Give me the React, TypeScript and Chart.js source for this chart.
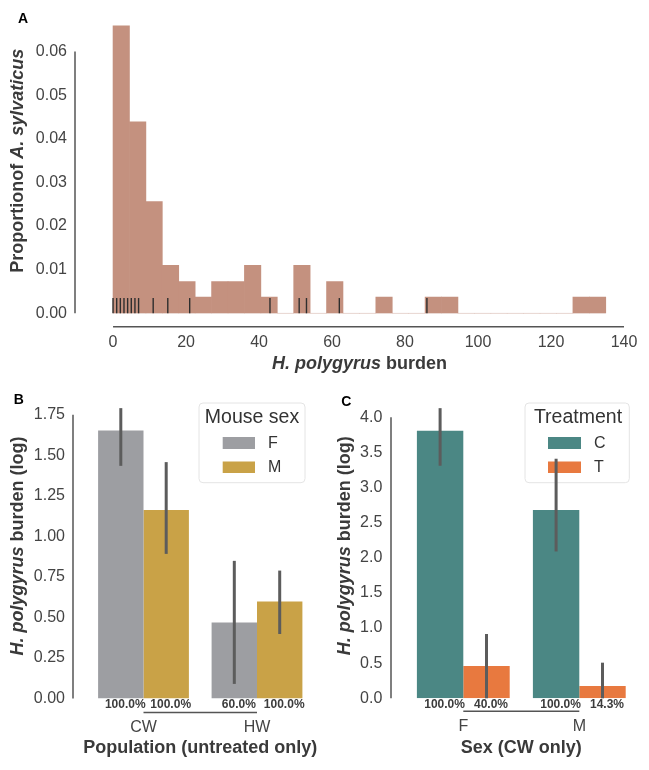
import React, { useEffect, useRef } from 'react';
import { Chart, registerables } from 'chart.js';

Chart.register(...registerables);

const FONT = "'Liberation Sans', Arial, Helvetica, sans-serif";

// ---------- Panel A: histogram of H. polygyrus burden ----------
const histBinStarts = [0, 4.5, 9, 13.5, 18, 22.5, 27, 31.5, 36, 40.5, 45, 49.5, 54, 58.5, 63, 67.5, 72, 76.5, 81, 85.5, 90, 94.5, 99, 103.5, 108, 112.5, 117, 121.5, 126, 130.5];
const histBinWidth = 4.5;
const histDensity = [0.0659, 0.0439, 0.0256, 0.011, 0.0073, 0.0037, 0.0073, 0.0073, 0.011, 0.0037, 0, 0.011, 0, 0.0073, 0, 0, 0.0037, 0, 0, 0.0037, 0.0037, 0, 0, 0, 0, 0, 0, 0, 0.0037, 0.0037];
const rugValues = [0, 1, 2, 3, 4, 5, 6, 7, 11, 15, 21, 43, 51, 53, 62, 86];
const histXTicks = [0, 20, 40, 60, 80, 100, 120, 140];
const histYTicks = [0, 0.01, 0.02, 0.03, 0.04, 0.05, 0.06];

// ---------- Panel B: burden by population and sex ----------
const popCategories = ['CW', 'HW'];
const sexSeries = ['F', 'M'];
const popBurdenF = [1.653, 0.468];
const popBurdenM = [1.162, 0.598];
const popCiF = [[1.435, 1.791], [0.09, 0.849]];
const popCiM = [[0.892, 1.458], [0.398, 0.789]];
const popPrevF = ['100.0%', '60.0%'];
const popPrevM = ['100.0%', '100.0%'];
const popYTicks = [0, 0.25, 0.5, 0.75, 1.0, 1.25, 1.5, 1.75];

// ---------- Panel C: burden by sex and treatment ----------
const sexCategories = ['F', 'M'];
const treatSeries = ['C', 'T'];
const sexBurdenC = [3.81, 2.68];
const sexBurdenT = [0.46, 0.175];
const sexCiC = [[3.31, 4.13], [2.09, 3.41]];
const sexCiT = [[0.0, 0.915], [0.0, 0.507]];
const sexPrevC = ['100.0%', '100.0%'];
const sexPrevT = ['40.0%', '14.3%'];
const sexYTicks = [0, 0.5, 1.0, 1.5, 2.0, 2.5, 3.0, 3.5, 4.0];

// ---------- styles ----------
const HIST_COLOR = '#c4917f';
const GREY = '#9d9ea2';
const GOLD = '#c9a247';
const TEAL = '#4b8784';
const ORANGE = '#e8793f';
const TICK_COLOR = '#444444';
const TITLE_COLOR = '#3a3a3a';
const SPINE_COLOR = '#555555';
const ERR_COLOR = '#5c5c5c';

type Seg = { t: string; f: string };
const BI = `italic bold 18px ${FONT}`;
const B = `bold 18px ${FONT}`;

function drawRich(ctx: CanvasRenderingContext2D, segs: Seg[], x: number, y: number, rotate: boolean) {
  ctx.save();
  ctx.translate(x, y);
  if (rotate) ctx.rotate(-Math.PI / 2);
  const widths = segs.map((s) => {
    ctx.font = s.f;
    return ctx.measureText(s.t).width;
  });
  const total = widths.reduce((a, b) => a + b, 0);
  let cx = -total / 2;
  ctx.textBaseline = 'middle';
  ctx.textAlign = 'left';
  ctx.fillStyle = TITLE_COLOR;
  segs.forEach((s, i) => {
    ctx.font = s.f;
    ctx.fillText(s.t, cx, 0);
    cx += widths[i];
  });
  ctx.restore();
}

type LegendCfg = { title: string; box: number[]; titleX: number; titleY: number; patchX: number; patchW: number; rows: number[][]; labelX: number };

type PanelCfg = {
  letter: string;
  letterX: number;
  letterY: number;
  xTitle: Seg[];
  xTitleDy: number;
  yTitle: Seg[];
  yTitleX: number;
  ySpineOff: number;
  xSpineOff: number;
  rug?: number[];
  baseline?: number[];
  legend?: LegendCfg;
  errors?: number[][][];
  pcts?: string[][];
};

function panelPlugin(cfg: PanelCfg) {
  return {
    id: 'panelDecor',
    beforeDatasetsDraw(chart: any) {
      if (!cfg.baseline) return;
      const { ctx, scales } = chart;
      ctx.save();
      ctx.strokeStyle = '#efe7e4';
      ctx.lineWidth = 1;
      const y0 = scales.y.getPixelForValue(0);
      ctx.beginPath();
      ctx.moveTo(scales.x.getPixelForValue(cfg.baseline[0]), y0);
      ctx.lineTo(scales.x.getPixelForValue(cfg.baseline[1]), y0);
      ctx.stroke();
      ctx.restore();
    },
    afterDatasetsDraw(chart: any) {
      const { ctx, chartArea, scales } = chart;
      const xS = scales.x;
      const yS = scales.y;
      ctx.save();
      if (cfg.rug) {
        const h = 0.05 * (chartArea.bottom - chartArea.top);
        ctx.strokeStyle = '#2e2e2e';
        ctx.lineWidth = 1.4;
        cfg.rug.forEach((v) => {
          const px = xS.getPixelForValue(v);
          ctx.beginPath();
          ctx.moveTo(px, chartArea.bottom);
          ctx.lineTo(px, chartArea.bottom - h);
          ctx.stroke();
        });
      }
      if (cfg.legend) {
        const L = cfg.legend;
        const [bx, by, bw, bh] = L.box;
        ctx.beginPath();
        ctx.roundRect(bx, by, bw, bh, 4);
        ctx.fillStyle = 'rgba(255,255,255,0.8)';
        ctx.fill();
        ctx.strokeStyle = '#e4e4e4';
        ctx.lineWidth = 1;
        ctx.stroke();
        ctx.fillStyle = '#333333';
        ctx.font = `19.5px ${FONT}`;
        ctx.textAlign = 'center';
        ctx.textBaseline = 'middle';
        ctx.fillText(L.title, L.titleX, L.titleY);
        chart.data.datasets.forEach((ds: any, i: number) => {
          const [py, ph] = L.rows[i];
          ctx.fillStyle = ds.backgroundColor;
          ctx.fillRect(L.patchX, py, L.patchW, ph);
          ctx.fillStyle = '#333333';
          ctx.font = `16px ${FONT}`;
          ctx.textAlign = 'left';
          ctx.fillText(ds.label, L.labelX, py + ph / 2 + 0.5);
        });
      }
      if (cfg.errors) {
        ctx.strokeStyle = ERR_COLOR;
        ctx.lineWidth = 3;
        ctx.lineCap = 'butt';
        cfg.errors.forEach((ci, i) => {
          const meta = chart.getDatasetMeta(i);
          meta.data.forEach((bar: any, j: number) => {
            const [lo, hi] = ci[j];
            ctx.beginPath();
            ctx.moveTo(bar.x, yS.getPixelForValue(lo));
            ctx.lineTo(bar.x, yS.getPixelForValue(hi));
            ctx.stroke();
          });
        });
      }
      if (cfg.pcts) {
        ctx.fillStyle = '#3c3c3c';
        ctx.font = `bold 12px ${FONT}`;
        ctx.textAlign = 'center';
        ctx.textBaseline = 'middle';
        cfg.pcts.forEach((labels, i) => {
          const meta = chart.getDatasetMeta(i);
          meta.data.forEach((bar: any, j: number) => {
            ctx.fillText(labels[j], bar.x + 4.5, chartArea.bottom + 6.5);
          });
        });
      }
      ctx.restore();
    },
    afterDraw(chart: any) {
      const { ctx, chartArea, scales } = chart;
      const xS = scales.x;
      const yS = scales.y;
      ctx.save();
      ctx.strokeStyle = SPINE_COLOR;
      ctx.lineWidth = 1.5;
      const sx = chartArea.left - cfg.ySpineOff;
      ctx.beginPath();
      ctx.moveTo(sx, yS.getPixelForTick(0));
      ctx.lineTo(sx, yS.getPixelForTick(yS.ticks.length - 1));
      ctx.stroke();
      const sy = chartArea.bottom + cfg.xSpineOff;
      ctx.beginPath();
      ctx.moveTo(xS.getPixelForTick(0), sy);
      ctx.lineTo(xS.getPixelForTick(xS.ticks.length - 1), sy);
      ctx.stroke();
      drawRich(ctx, cfg.xTitle, (chartArea.left + chartArea.right) / 2, chartArea.bottom + cfg.xTitleDy, false);
      drawRich(ctx, cfg.yTitle, cfg.yTitleX, (chartArea.top + chartArea.bottom) / 2, true);
      ctx.fillStyle = '#000000';
      ctx.font = `bold 14px ${FONT}`;
      ctx.textAlign = 'center';
      ctx.textBaseline = 'middle';
      ctx.fillText(cfg.letter, cfg.letterX, cfg.letterY);
      ctx.restore();
    },
  };
}

function zeroPad(s: any) {
  s.paddingLeft = 0;
  s.paddingRight = 0;
  s.paddingTop = 0;
  s.paddingBottom = 0;
}

function yAxis(min: number, max: number, ticks: number[], digits: number, width: number, pad: number) {
  return {
    type: 'linear',
    min,
    max,
    grid: { display: false, drawTicks: false },
    border: { display: false },
    ticks: {
      padding: pad,
      autoSkip: false,
      color: TICK_COLOR,
      font: { size: 16, family: FONT },
      callback: (v: any) => Number(v).toFixed(digits),
    },
    afterBuildTicks: (s: any) => {
      s.ticks = ticks.map((v) => ({ value: v }));
    },
    afterFit: (s: any) => {
      s.width = width;
      zeroPad(s);
    },
  };
}

function xCategoryAxis(height: number, pad: number) {
  return {
    type: 'category',
    grid: { display: false, drawTicks: false },
    border: { display: false },
    ticks: { padding: pad, color: TICK_COLOR, font: { size: 16, family: FONT }, autoSkip: false },
    afterFit: (s: any) => {
      s.height = height;
      zeroPad(s);
    },
  };
}

const baseOpts = {
  animation: false,
  responsive: false,
  maintainAspectRatio: false,
  events: [],
};

function makeA(canvas: HTMLCanvasElement) {
  return new Chart(canvas, {
    type: 'bar',
    data: {
      datasets: [
        {
          label: 'density',
          data: histBinStarts.map((s, i) => ({ x: s + histBinWidth / 2, y: histDensity[i] })),
          backgroundColor: HIST_COLOR,
          borderWidth: 0,
          barPercentage: 1,
          categoryPercentage: 1,
        },
      ],
    },
    options: {
      ...baseOpts,
      layout: { padding: { left: 0, top: 8, right: 18.6, bottom: 26.7 } },
      scales: {
        x: {
          type: 'linear',
          min: -6.75,
          max: 141.75,
          offset: false,
          grid: { display: false, drawTicks: false },
          border: { display: false },
          ticks: { padding: 19.4, autoSkip: false, color: TICK_COLOR, font: { size: 16, family: FONT }, callback: (v: any) => String(v) },
          afterBuildTicks: (s: any) => {
            s.ticks = histXTicks.map((v) => ({ value: v }));
          },
          afterFit: (s: any) => {
            s.height = 40;
            zeroPad(s);
          },
        },
        y: yAxis(0, 0.07, histYTicks, 2, 88.4, 21.4),
      },
      plugins: { legend: { display: false }, tooltip: { enabled: false } },
    } as any,
    plugins: [
      panelPlugin({
        letter: 'A',
        letterX: 23,
        letterY: 19,
        xTitle: [{ t: 'H. polygyrus', f: BI }, { t: ' burden', f: B }],
        xTitleDy: 50.7,
        yTitle: [{ t: 'Proportionof ', f: B }, { t: 'A. sylvaticus', f: BI }],
        yTitleX: 18.5,
        ySpineOff: 13.4,
        xSpineOff: 13.5,
        rug: rugValues,
        baseline: [histBinStarts[0], histBinStarts[histBinStarts.length - 1] + histBinWidth],
      }),
    ],
  } as any);
}

function makeB(canvas: HTMLCanvasElement) {
  return new Chart(canvas, {
    type: 'bar',
    data: {
      labels: popCategories,
      datasets: [
        { label: sexSeries[0], data: popBurdenF, backgroundColor: GREY, borderWidth: 0 },
        { label: sexSeries[1], data: popBurdenM, backgroundColor: GOLD, borderWidth: 0 },
      ],
    },
    options: {
      ...baseOpts,
      datasets: { bar: { categoryPercentage: 0.8, barPercentage: 1 } },
      layout: { padding: { left: 0, top: 13.7, right: 16.25, bottom: 21.5 } },
      scales: {
        x: xCategoryAxis(50, 19.4),
        y: yAxis(0, 1.88, popYTicks, 2, 86.75, 21.75),
      },
      plugins: { legend: { display: false }, tooltip: { enabled: false } },
    } as any,
    plugins: [
      panelPlugin({
        letter: 'B',
        letterX: 18.7,
        letterY: 20,
        xTitle: [{ t: 'Population (untreated only)', f: B }],
        xTitleDy: 49.5,
        yTitle: [{ t: 'H. polygyrus', f: BI }, { t: ' burden (log)', f: B }],
        yTitleX: 18.5,
        ySpineOff: 13.75,
        xSpineOff: 14,
        legend: {
          title: 'Mouse sex',
          box: [199, 23, 106, 79.7],
          titleX: 252,
          titleY: 38,
          patchX: 222.7,
          patchW: 32.3,
          rows: [[57, 12], [81.5, 11.5]],
          labelX: 268,
        },
        errors: [popCiF, popCiM],
        pcts: [popPrevF, popPrevM],
      }),
    ],
  } as any);
}

function makeC(canvas: HTMLCanvasElement) {
  return new Chart(canvas, {
    type: 'bar',
    data: {
      labels: sexCategories,
      datasets: [
        { label: treatSeries[0], data: sexBurdenC, backgroundColor: TEAL, borderWidth: 0 },
        { label: treatSeries[1], data: sexBurdenT, backgroundColor: ORANGE, borderWidth: 0 },
      ],
    },
    options: {
      ...baseOpts,
      datasets: { bar: { categoryPercentage: 0.8, barPercentage: 1 } },
      layout: { padding: { left: 0, top: 13.4, right: 11.7, bottom: 21.7 } },
      scales: {
        x: xCategoryAxis(50, 18.8),
        y: yAxis(0, 4.34, sexYTicks, 1, 75.3, 23),
      },
      plugins: { legend: { display: false }, tooltip: { enabled: false } },
    } as any,
    plugins: [
      panelPlugin({
        letter: 'C',
        letterX: 16.2,
        letterY: 22.3,
        xTitle: [{ t: 'Sex (CW only)', f: B }],
        xTitleDy: 49.7,
        yTitle: [{ t: 'H. polygyrus', f: BI }, { t: ' burden (log)', f: B }],
        yTitleX: 15,
        ySpineOff: 14.3,
        xSpineOff: 13,
        legend: {
          title: 'Treatment',
          box: [195, 23, 104.3, 79.7],
          titleX: 248,
          titleY: 38,
          patchX: 218,
          patchW: 33,
          rows: [[57, 12], [81.5, 11.5]],
          labelX: 264,
        },
        errors: [sexCiC, sexCiT],
        pcts: [sexPrevC, sexPrevT],
      }),
    ],
  } as any);
}

export default function App() {
  const refA = useRef<HTMLCanvasElement | null>(null);
  const refB = useRef<HTMLCanvasElement | null>(null);
  const refC = useRef<HTMLCanvasElement | null>(null);

  useEffect(() => {
    Chart.defaults.font.family = FONT;
    const charts: Chart[] = [];
    if (refA.current) charts.push(makeA(refA.current));
    if (refB.current) charts.push(makeB(refB.current));
    if (refC.current) charts.push(makeC(refC.current));
    return () => {
      charts.forEach((c) => c.destroy());
    };
  }, []);

  return (
    <div style={{ position: 'absolute', left: 0, top: 0, width: 649, height: 770, background: '#ffffff', overflow: 'hidden' }}>
      <canvas ref={refA} width={649} height={380} style={{ position: 'absolute', left: 0, top: 0, width: 649, height: 380 }} />
      <canvas ref={refB} width={330} height={390} style={{ position: 'absolute', left: 0, top: 380, width: 330, height: 390 }} />
      <canvas ref={refC} width={319} height={390} style={{ position: 'absolute', left: 330, top: 380, width: 319, height: 390 }} />
    </div>
  );
}
